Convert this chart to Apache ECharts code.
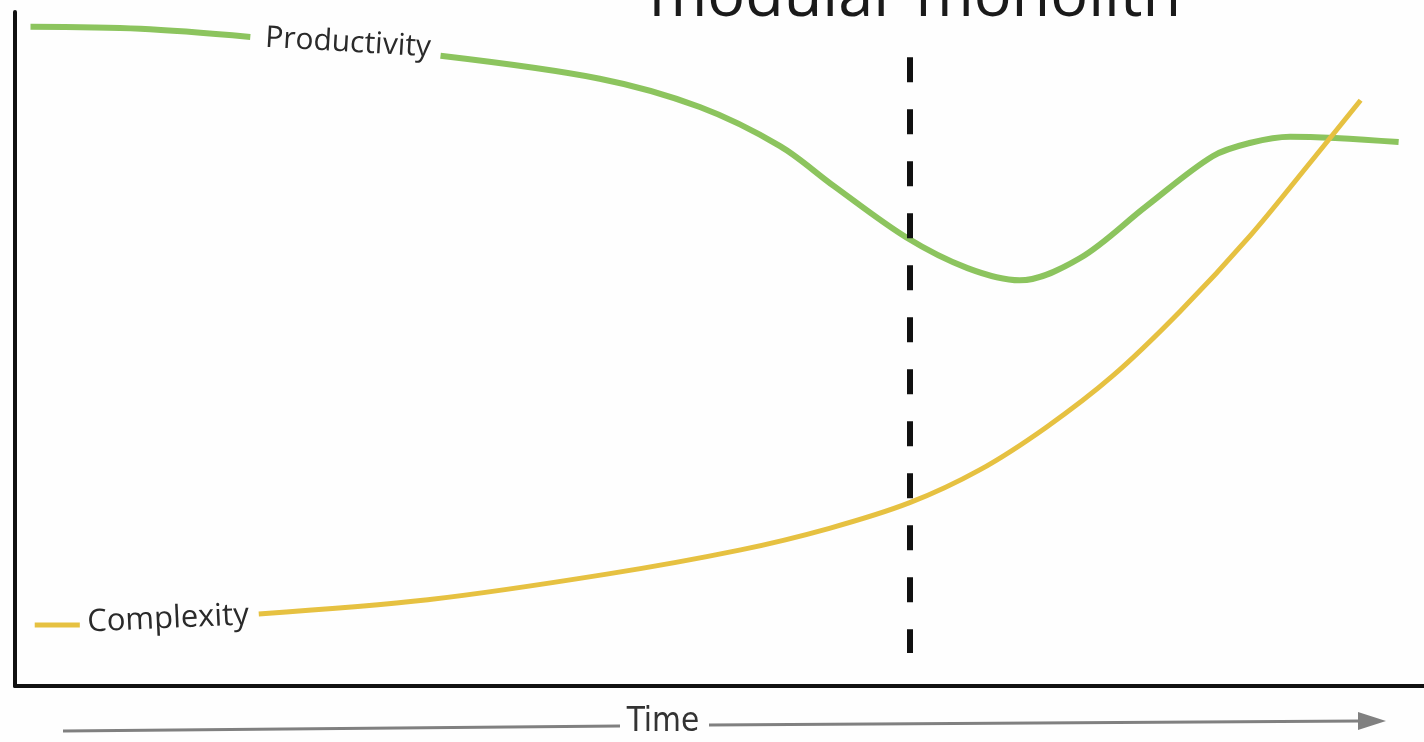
<!DOCTYPE html>
<html>
<head>
<meta charset="utf-8">
<title>modular monolith</title>
<script src="https://cdn.jsdelivr.net/npm/echarts@6/dist/echarts.min.js"></script>
<style>
  html, body { margin: 0; padding: 0; background: #fefefe; }
  #main { width: 1424px; height: 742px; }
</style>
</head>
<body>
<div id="main"></div>
<script>
// time runs 0..100 left to right, value 0..100 bottom to top
// null = gap in the line where the label sits
var productivityTime = [1.1, 8.9, 16.7, 23, 30.2, 41.5, 48.6, 54.3, 58.1, 63.3, 67.6, 71.3, 75.6, 80.3, 85.0, 87.7, 90.5, 98.2];
var productivity     = [97.8, 97.5, 96.3, null, 93.5, 90.1, 85.9, 80.1, 74.2, 66.5, 62.0, 60.2, 63.5, 71.2, 78.6, 80.6, 81.5, 80.7];

var complexityTime = [1.4, 4.6, 10, 17.3, 29.3, 42.0, 51.5, 57.8, 63.5, 68.5, 73.2, 77.9, 82.7, 87.7, 91.9, 95.5];
var complexity     = [9.05, 9.05, null, 10.7, 12.8, 16.6, 20.2, 23.4, 27.2, 32.1, 38.4, 46.0, 55.6, 66.9, 77.6, 86.9];

// the split point (dashed line)
var splitTime = 63.5;
var splitRange = [4.9, 93.3];

function pairs(xs, ys) {
  var out = [];
  for (var i = 0; i < xs.length; i++) {
    out.push([xs[i], ys[i] == null ? '-' : ys[i]]);
  }
  return out;
}

var chart = echarts.init(document.getElementById('main'));

chart.setOption({
  backgroundColor: '#fefefe',
  animation: false,
  grid: { left: 15, right: 0, top: 12, bottom: 56 },
  xAxis: {
    type: 'value', min: 0, max: 100,
    axisLine: { show: true, lineStyle: { color: '#111', width: 4 } },
    axisTick: { show: false }, axisLabel: { show: false }, splitLine: { show: false }
  },
  yAxis: {
    type: 'value', min: 0, max: 100,
    axisLine: { show: true, lineStyle: { color: '#111', width: 4 } },
    axisTick: { show: false }, axisLabel: { show: false }, splitLine: { show: false }
  },
  series: [
    {
      name: 'Productivity',
      type: 'line',
      data: pairs(productivityTime, productivity),
      smooth: 0.33,
      symbol: 'none',
      clip: false,
      lineStyle: { color: '#8cc45e', width: 6 },
      markLine: {
        silent: true,
        symbol: 'none',
        label: { show: false },
        lineStyle: { color: '#111', width: 6, type: [25, 27] },
        data: [[{ coord: [splitTime, splitRange[1]] }, { coord: [splitTime, splitRange[0]] }]]
      }
    },
    {
      name: 'Complexity',
      type: 'line',
      data: pairs(complexityTime, complexity),
      smooth: 0.33,
      symbol: 'none',
      clip: false,
      lineStyle: { color: '#e6c141', width: 5 }
    }
  ],
  graphic: [
    {
      type: 'text', x: 915, y: -2,
      style: { text: 'modular monolith', font: '63px "Open Sans"', fill: '#1a1a1a', align: 'center', verticalAlign: 'middle' }
    },
    {
      type: 'text', x: 348, y: 43, rotation: -0.058,
      style: { text: 'Productivity', font: '30px "Open Sans"', fill: '#2a2a2a', align: 'center', verticalAlign: 'middle' }
    },
    {
      type: 'text', x: 168, y: 619, rotation: 0.045,
      style: { text: 'Complexity', font: '31px "Open Sans"', fill: '#2a2a2a', align: 'center', verticalAlign: 'middle' }
    },
    // Time arrow under the axis
    {
      type: 'line', shape: { x1: 63, y1: 731, x2: 620, y2: 726 },
      style: { stroke: '#808080', lineWidth: 3 }
    },
    {
      type: 'text', x: 663, y: 722,
      style: { text: 'Time', font: '33px "Liberation Sans Narrow", "DejaVu Sans Condensed", sans-serif', fill: '#333', align: 'center', verticalAlign: 'middle' }
    },
    {
      type: 'line', shape: { x1: 709, y1: 725, x2: 1362, y2: 721 },
      style: { stroke: '#808080', lineWidth: 3 }
    },
    {
      type: 'polygon', shape: { points: [[1358, 712], [1386, 721], [1358, 730]] },
      style: { fill: '#808080' }
    }
  ]
});
</script>
</body>
</html>
